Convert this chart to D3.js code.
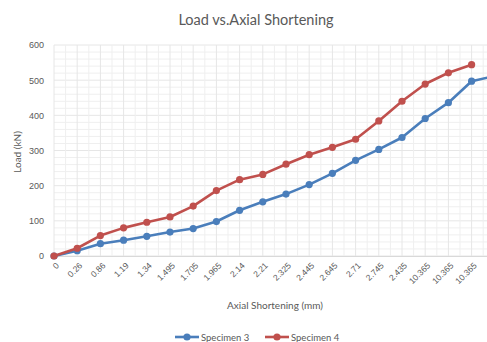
<!DOCTYPE html>
<html>
<head>
<meta charset="utf-8">
<script src="https://cdn.jsdelivr.net/npm/d3@7"></script>
<style>
  html, body { margin: 0; padding: 0; background: #fff; }
  svg { display: block; font-family: Lato, "Open Sans", sans-serif; }
</style>
</head>
<body>
<svg id="chart" width="487" height="342"></svg>
<script>
// Category labels along the shortening axis (mm)
const categories = ["0", "0.26", "0.86", "1.19", "1.34", "1.495", "1.705", "1.965", "2.14", "2.21",
  "2.325", "2.445", "2.645", "2.71", "2.745", "2.435", "10.365", "10.365", "10.365", "10.365"];
// Load readings (kN)
const specimen3 = [0, 15, 35, 45, 56, 68, 78, 98, 130, 154, 176, 203, 235, 272, 303, 337, 391, 436, 497, 512];
const specimen4 = [0, 22, 58, 80, 96, 111, 142, 186, 217, 232, 261, 288, 309, 332, 384, 440, 489, 521, 544];
const yTicks = [0, 100, 200, 300, 400, 500, 600];

const series = [
  { name: "Specimen 3", values: specimen3, color: "#4A7EBB" },
  { name: "Specimen 4", values: specimen4, color: "#C0504D" }
];

const width = 487;
const svg = d3.select("#chart");
const plotLeft = 54, plotTop = 45, plotBottom = 256;
const step = 23.2;

const x = d3.scalePoint().domain(d3.range(categories.length))
  .range([plotLeft, plotLeft + step * (categories.length - 1)]);
const y = d3.scaleLinear().domain([0, 600]).range([plotBottom, plotTop]);
const plotRight = x(categories.length - 1);

// Grid: minor and major, horizontal and vertical
const grid = svg.append("g");
d3.range(0, 601, 20).forEach(v => {
  grid.append("line").attr("x1", plotLeft).attr("x2", plotRight)
    .attr("y1", y(v)).attr("y2", y(v))
    .attr("stroke", v % 100 === 0 ? "#e6e6e6" : "#efefef").attr("stroke-width", 1);
});
d3.range(0, categories.length - 0.5, 0.5).forEach(i => {
  const xx = plotLeft + step * i;
  grid.append("line").attr("x1", xx).attr("x2", xx)
    .attr("y1", plotTop).attr("y2", plotBottom)
    .attr("stroke", Number.isInteger(i) ? "#e6e6e6" : "#efefef").attr("stroke-width", 1);
});

// Category axis (labels only where they fit inside the view)
const xAxis = d3.axisBottom(x).tickSize(0)
  .tickValues(x.domain().filter(i => x(i) < width - 10))
  .tickFormat(i => categories[i]);
const gx = svg.append("g").attr("transform", `translate(0,${plotBottom})`).call(xAxis);
gx.select(".domain").attr("stroke", "#d9d9d9");
gx.selectAll("text")
  .attr("fill", "#595959").attr("font-size", 8.5)
  .attr("text-anchor", "end").attr("dy", 0)
  .attr("transform", "translate(3,8) rotate(-45)");

// Value axis
const yAxis = d3.axisLeft(y).tickValues(yTicks).tickSize(0).tickPadding(10);
const gy = svg.append("g").attr("transform", `translate(${plotLeft},0)`).call(yAxis);
gy.select(".domain").remove();
gy.selectAll("text").attr("fill", "#595959").attr("font-size", 9);

// Series lines and markers
const line = d3.line().x((d, i) => x(i)).y(d => y(d));
series.forEach(s => {
  svg.append("path").datum(s.values)
    .attr("fill", "none").attr("stroke", s.color)
    .attr("stroke-width", 2.6).attr("stroke-linejoin", "round")
    .attr("d", line);
  svg.append("g").selectAll("circle").data(s.values).join("circle")
    .attr("cx", (d, i) => x(i)).attr("cy", d => y(d))
    .attr("r", 3.6).attr("fill", s.color);
});

// Titles
svg.append("text").attr("x", 256).attr("y", 25).attr("text-anchor", "middle")
  .attr("font-size", 14.5).attr("fill", "#595959").text("Load vs.Axial Shortening");
svg.append("text").attr("x", 275).attr("y", 309).attr("text-anchor", "middle")
  .attr("font-size", 10).attr("fill", "#595959").text("Axial Shortening (mm)");
svg.append("text").attr("transform", "translate(21,152) rotate(-90)")
  .attr("text-anchor", "middle").attr("font-size", 10).attr("fill", "#595959").text("Load (kN)");

// Legend
const legendX = [175, 265];
series.forEach((s, k) => {
  const g = svg.append("g").attr("transform", `translate(${legendX[k]},337)`);
  g.append("line").attr("x1", 0).attr("x2", 24).attr("y1", 0).attr("y2", 0)
    .attr("stroke", s.color).attr("stroke-width", 2.6);
  g.append("circle").attr("cx", 12).attr("cy", 0).attr("r", 3.6).attr("fill", s.color);
  g.append("text").attr("x", 26).attr("y", 3.5).attr("font-size", 9.5)
    .attr("fill", "#595959").text(s.name);
});
</script>
</body>
</html>
